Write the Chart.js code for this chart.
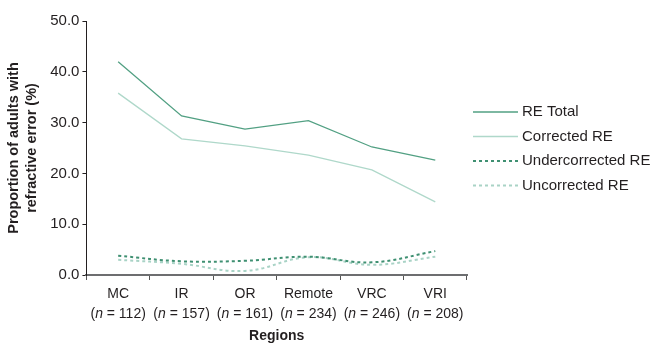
<!DOCTYPE html>
<html lang="en">
<head>
  <meta charset="UTF-8">
  <title>Refractive error by region</title>
  <script src="https://cdn.jsdelivr.net/npm/chart.js"></script>
  <style>
    body { margin: 0; background: #fff; }
    #wrap { width: 654px; height: 343px; }
  </style>
</head>
<body>
  <div id="wrap"><canvas id="reChart"></canvas></div>
  <script>
    // data
    const regions = ['MC', 'IR', 'OR', 'Remote', 'VRC', 'VRI'];
    const sampleSizes = [112, 157, 161, 234, 246, 208];
    const reTotal = [42.0, 31.3, 28.7, 30.4, 25.2, 22.6];
    const correctedRE = [35.8, 26.8, 25.4, 23.6, 20.7, 14.4];
    const undercorrectedRE = [3.8, 2.7, 2.8, 3.6, 2.5, 4.7];
    const uncorrectedRE = [3.0, 2.2, 0.8, 3.5, 2.0, 3.6];
    const yTicks = [0, 10, 20, 30, 40, 50];

    const FONT = "'Liberation Sans', Arial, sans-serif";
    const TEXT = '#231f20';

    // x labels drawn by hand so the "n" can be italic
    const xLabelPlugin = {
      id: 'xLabels',
      afterDraw(chart) {
        const ctx = chart.ctx;
        const x = chart.scales.x;
        ctx.save();
        ctx.fillStyle = TEXT;
        ctx.textBaseline = 'middle';
        regions.forEach((r, i) => {
          const cx = x.getPixelForValue(i);
          const y1 = x.top + 19;
          const y2 = y1 + 20;
          ctx.font = '14px ' + FONT;
          ctx.textAlign = 'center';
          ctx.fillText(r, cx, y1);
          const a = '(', b = 'n', c = ' = ' + sampleSizes[i] + ')';
          ctx.font = '14px ' + FONT;
          const wa = ctx.measureText(a).width, wc = ctx.measureText(c).width;
          ctx.font = 'italic 14px ' + FONT;
          const wb = ctx.measureText(b).width;
          let sx = cx - (wa + wb + wc) / 2;
          ctx.textAlign = 'left';
          ctx.font = '14px ' + FONT;
          ctx.fillText(a, sx, y2); sx += wa;
          ctx.font = 'italic 14px ' + FONT;
          ctx.fillText(b, sx, y2); sx += wb;
          ctx.font = '14px ' + FONT;
          ctx.fillText(c, sx, y2);
        });
        ctx.font = 'bold 14px ' + FONT;
        ctx.textAlign = 'center';
        ctx.fillText('Regions', (x.left + x.right) / 2, x.top + 61);
        ctx.restore();
      }
    };

    // legend on the right, drawn from the dataset styles
    const legendPlugin = {
      id: 'sideLegend',
      afterDraw(chart) {
        const ctx = chart.ctx;
        ctx.save();
        ctx.font = '15px ' + FONT;
        ctx.textBaseline = 'middle';
        ctx.fillStyle = TEXT;
        chart.data.datasets.forEach((ds, i) => {
          const y = 112 + i * 24.5;
          ctx.strokeStyle = ds.borderColor;
          ctx.lineWidth = ds.borderWidth;
          ctx.setLineDash(ds.borderDash || []);
          ctx.beginPath();
          ctx.moveTo(473, y);
          ctx.lineTo(518, y);
          ctx.stroke();
          ctx.setLineDash([]);
          ctx.fillText(ds.label, 522, y);
        });
        ctx.restore();
      }
    };

    new Chart(document.getElementById('reChart'), {
      type: 'line',
      data: {
        labels: regions,
        datasets: [
          { label: 'RE Total', data: reTotal, borderColor: '#52a083', borderWidth: 1.3, tension: 0 },
          { label: 'Corrected RE', data: correctedRE, borderColor: '#afd8ca', borderWidth: 1.3, tension: 0 },
          { label: 'Undercorrected RE', data: undercorrectedRE, borderColor: '#3f9072', borderWidth: 2, borderDash: [3, 3], tension: 0.4 },
          { label: 'Uncorrected RE', data: uncorrectedRE, borderColor: '#a9d3c6', borderWidth: 2, borderDash: [3, 3], tension: 0.4 }
        ]
      },
      options: {
        responsive: true,
        maintainAspectRatio: false,
        animation: false,
        elements: { point: { radius: 0 } },
        layout: { padding: { top: 21, right: 187, bottom: 63, left: 5 } },
        plugins: {
          legend: { display: false },
          tooltip: { enabled: false }
        },
        scales: {
          x: {
            offset: true,
            grid: { display: true, drawOnChartArea: false, drawTicks: true, tickLength: 5, color: '#555', offset: true },
            border: { color: '#6d6e70', width: 2 },
            ticks: { display: false }
          },
          y: {
            min: 0,
            max: 50,
            afterBuildTicks(axis) { axis.ticks = yTicks.map(v => ({ value: v })); },
            grid: { display: true, drawOnChartArea: false, drawTicks: true, tickLength: 4, color: '#231f20' },
            border: { color: '#231f20', width: 1 },
            ticks: {
              color: TEXT,
              padding: 3,
              font: { family: FONT, size: 15 },
              callback: v => v.toFixed(1)
            },
            title: {
              display: true,
              text: ['Proportion of adults with', 'refractive error (%)'],
              color: TEXT,
              font: { family: FONT, size: 14.5, weight: 'bold', lineHeight: 1.25 },
              padding: { top: 0, bottom: 6 }
            }
          }
        }
      },
      plugins: [xLabelPlugin, legendPlugin]
    });
  </script>
</body>
</html>
